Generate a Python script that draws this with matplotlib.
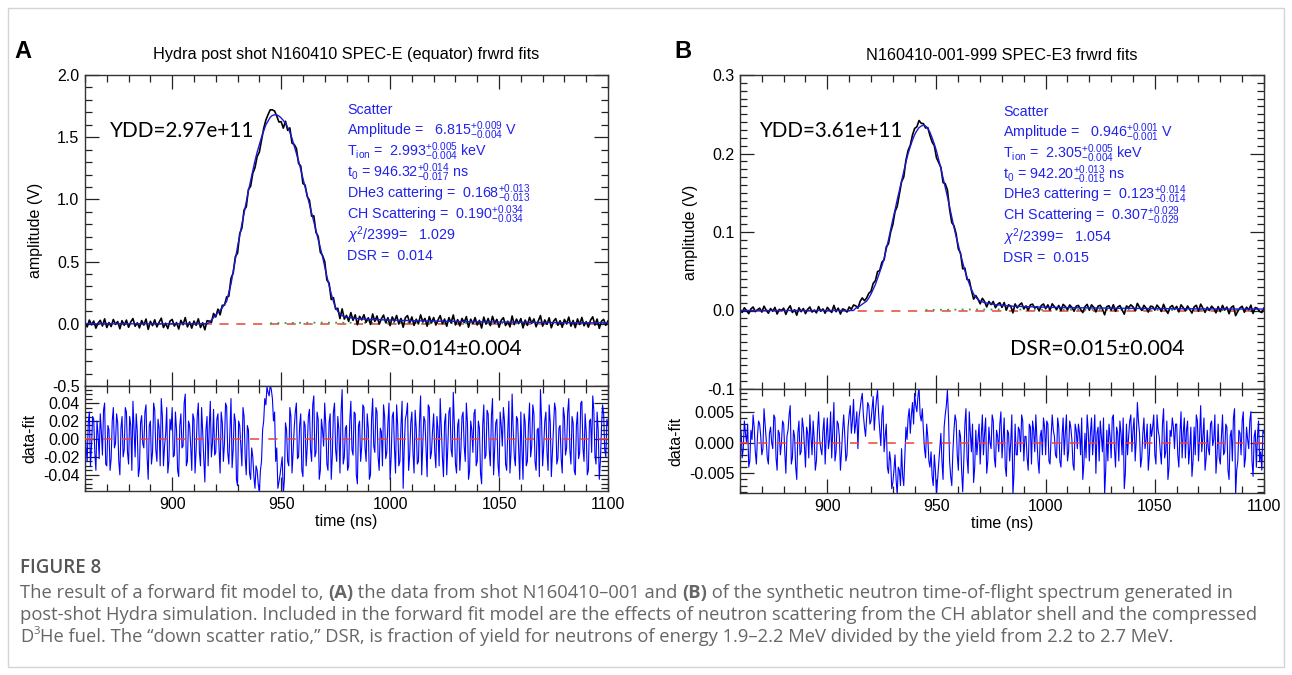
import numpy as np
import matplotlib
matplotlib.use("Agg")
import matplotlib.pyplot as plt
from matplotlib.ticker import MultipleLocator, FormatStrFormatter
from matplotlib.patches import Rectangle

plt.rcParams['font.family'] = ['Liberation Sans', 'DejaVu Sans']
plt.rcParams['axes.unicode_minus'] = False
plt.rcParams['mathtext.fontset'] = 'custom'
plt.rcParams['mathtext.rm'] = 'Liberation Sans'
plt.rcParams['mathtext.it'] = 'Liberation Sans:italic'
plt.rcParams['mathtext.bf'] = 'Liberation Sans:bold'
plt.rcParams['mathtext.sf'] = 'Liberation Sans'

# ---------------- data (860..1100 ns) ----------------
t_first, t_last, t_step = 860, 1100, 1.0

# panel A: forward-fit curve (V), 1 ns sampling
fit_a = ([0.0] * 57 +
         [0.01, 0.03, 0.05, 0.07, 0.09, 0.11, 0.13, 0.155, 0.18, 0.25,
          0.32, 0.42, 0.52, 0.62, 0.71, 0.80, 0.89, 0.98, 1.07, 1.15,
          1.23, 1.31, 1.38, 1.44, 1.50, 1.55, 1.60, 1.63, 1.66, 1.675,
          1.68, 1.68, 1.67, 1.655, 1.635, 1.61, 1.58, 1.54, 1.49, 1.43,
          1.37, 1.31, 1.24, 1.17, 1.10, 1.03, 0.96, 0.89, 0.82, 0.75,
          0.68, 0.61, 0.54, 0.46, 0.38, 0.31, 0.24, 0.18, 0.13, 0.10,
          0.08, 0.065, 0.058, 0.053, 0.050, 0.048, 0.046, 0.044, 0.042, 0.040,
          0.039, 0.038, 0.037, 0.036] +
         [0.035, 0.034, 0.034, 0.033, 0.033, 0.032, 0.032, 0.031, 0.031, 0.030,
          0.030, 0.029, 0.029, 0.028, 0.028, 0.027, 0.027, 0.026, 0.026, 0.025,
          0.025, 0.025, 0.024, 0.024, 0.024, 0.023, 0.023, 0.023, 0.022, 0.022,
          0.022, 0.021, 0.021, 0.021, 0.020, 0.020, 0.020, 0.019, 0.019, 0.019,
          0.019, 0.018, 0.018, 0.018, 0.018, 0.017, 0.017, 0.017, 0.017, 0.016,
          0.016, 0.016, 0.016, 0.015, 0.015, 0.015, 0.015, 0.015, 0.014, 0.014,
          0.014, 0.014, 0.014, 0.013, 0.013, 0.013, 0.013, 0.013, 0.013, 0.012,
          0.012, 0.012, 0.012, 0.012, 0.012, 0.011, 0.011, 0.011, 0.011, 0.011,
          0.011, 0.011, 0.010, 0.010, 0.010, 0.010, 0.010, 0.010, 0.010, 0.010,
          0.009, 0.009, 0.009, 0.009, 0.009, 0.009, 0.009, 0.009, 0.009, 0.009,
          0.008, 0.008, 0.008, 0.008, 0.008, 0.008, 0.008, 0.008, 0.008, 0.008])

# panel A: residual data-fit (mV) at whole ns (860..1100)
resid_a_mV = [
    12, -25, 30, -8, 22, -35, 5, 28, -18, 40, -30, 10, -22, 35, -5, 18, -40, 25, -12, 30,
    -28, 15, 42, -20, 8, -33, 26, -10, 38, -45, 20, -15, 32, -25, 12, 45, -30, 5, -38, 22,
    35, -18, 10, -42, 28, -8, 50, -25, 15, -35, 22, -12, 40, -30, 8, -48, 25, 12, -20, 33,
    -15, 28, -38, 18, -5, 36, -28, 45, -12, 20, -52, 15, -30, 25, -40, 10, -45, -20, -55, -35,
    -60, -25, 20, 38, 52, 60, 45, 30, -10, -48, -30, -62, 18, -25, 35, -38, 12, 40, -20, 28,
    -42, 15, -8, 33, -25, 48, -15, 22, -35, 10, 40, -28, 18, -45, 30, -12, 25, -38, 55, -20,
    15, -30, 42, -18, 28, -50, 20, -8, 35, -25, 12, -40, 45, -15, 30, -35, 8, 38, -22, 18,
    -45, 25, -10, 38, -30, 15, -55, 22, 40, -18, 30, -38, 12, -25, 48, -8, 20, -42, 35, -15,
    28, -32, 10, 45, -20, 18, -40, 30, -12, 52, -28, 15, -35, 25, -8, 40, -45, 20, -15, 33,
    -25, 12, -50, 38, -18, 28, -30, 45, -10, 22, -42, 15, 35, -28, 8, -38, 50, -20, 25, -12,
    30, -45, 18, -25, 40, -8, 28, -35, 12, 55, -30, 20, -15, 38, -42, 10, 32, -22, 15, -38,
    25, -10, 45, -28, 18, -40, 30, -15, 42, -25, 8, -35, 22, 48, -18, 30, -45, 12, 28, -20,
    15]
# panel A: residual data-fit (mV) at half ns (860.5..1099.5)
resid_a_half_mV = [
    -10, 18, -30, 25, -15, 20, -22, 8, 32, -28, 15, -35, 20, -10, 28, -25, 12, -20, 35, -15,
    25, -35, 10, 28, -42, 18, -5, 30, -20, 15, -28, 40, -12, 22, -30, 25, -8, 35, -25, 10,
    -20, 30, -35, 15, -10, 40, -30, 20, -8, 28, -38, 25, -15, 35, -22, 10, -30, 42, -5, -18,
    22, -10, 30, -25, 40, -15, 8, -32, 28, -45, 20, -8, 35, -20, 15, -38, -10, -42, -30, -50,
    -35, 10, 45, 58, 48, 55, 20, -25, -55, -40, -20, -45, 10, -30, 25, -15, 30, -22, 15, -35,
    20, -30, 25, -12, 38, -20, 30, -45, 22, -8, 15, -35, 28, -18, 40, -25, 10, 30, -28, 12,
    -35, 20, -12, 30, -40, 15, -25, 38, -10, 28, -45, 22, -8, 35, -20, 12, -30, 25, -15, 40,
    -20, 30, -38, 15, -25, 42, -10, 28, -35, 18, -15, 32, -28, 20, -40, 25, -12, 38, -22, 10,
    -15, 25, -30, 12, -42, 28, -8, 35, -20, 15, -38, 22, -12, 30, -25, 18, -35, 10, 28, -30,
    20, -38, 15, -22, 32, -12, 25, -40, 18, -28, 30, -8, 20, -35, 42, -15, 10, -30, 22, -45,
    -12, 28, -30, 15, -20, 38, -25, 10, -42, 22, -8, 30, -35, 18, -15, 40, -28, 12, -22, 35,
    -18, 30, -12, 25, -35, 15, -22, 40, -10, 28, -40, 20, -15, 32, -28, 10, -25, 38, -12, 22]

# panel B: forward-fit curve (V), 1 ns sampling
fit_b = ([0.0] * 53 +
         [0.003, 0.004, 0.006, 0.008, 0.010, 0.012, 0.016, 0.021, 0.027, 0.033,
          0.041, 0.049, 0.057, 0.066, 0.078, 0.090, 0.103, 0.116, 0.128, 0.141,
          0.153, 0.165, 0.177, 0.189, 0.200, 0.209, 0.217, 0.224, 0.229, 0.233,
          0.235, 0.236, 0.235, 0.232, 0.227, 0.220, 0.212, 0.203, 0.192, 0.181,
          0.169, 0.157, 0.145, 0.132, 0.119, 0.106, 0.094, 0.083, 0.072, 0.061,
          0.051, 0.042, 0.034, 0.027, 0.021, 0.017, 0.014, 0.012,
          0.011, 0.010, 0.0095, 0.009, 0.0085, 0.008, 0.0075, 0.007, 0.007, 0.0065] +
         [0.0062, 0.0060, 0.0058, 0.0056, 0.0055, 0.0054, 0.0053, 0.0052, 0.0051, 0.0050,
          0.0049, 0.0048, 0.0047, 0.0046, 0.0046, 0.0045, 0.0044, 0.0044, 0.0043, 0.0042,
          0.0042, 0.0041, 0.0040, 0.0040, 0.0039, 0.0039, 0.0038, 0.0038, 0.0037, 0.0037,
          0.0036, 0.0036, 0.0035, 0.0035, 0.0035, 0.0034, 0.0034, 0.0033, 0.0033, 0.0033,
          0.0032, 0.0032, 0.0032, 0.0031, 0.0031, 0.0031, 0.0030, 0.0030, 0.0030, 0.0029,
          0.0029, 0.0029, 0.0029, 0.0028, 0.0028, 0.0028, 0.0028, 0.0027, 0.0027, 0.0027,
          0.0027, 0.0026, 0.0026, 0.0026, 0.0026, 0.0025, 0.0025, 0.0025, 0.0025, 0.0025,
          0.0024, 0.0024, 0.0024, 0.0024, 0.0024, 0.0023, 0.0023, 0.0023, 0.0023, 0.0023,
          0.0022, 0.0022, 0.0022, 0.0022, 0.0022, 0.0022, 0.0022, 0.0021, 0.0021, 0.0021,
          0.0021, 0.0021, 0.0021, 0.0021, 0.0020, 0.0020, 0.0020, 0.0020, 0.0020, 0.0020,
          0.0020, 0.0020, 0.0019, 0.0019, 0.0019, 0.0019, 0.0019, 0.0019, 0.0019, 0.0019,
          0.0018, 0.0018, 0.0018, 0.0018, 0.0018, 0.0018, 0.0018, 0.0018, 0.0018, 0.0018])

# panel B: residual data-fit (1e-4 V) at whole ns (860..1100)
resid_b_1e4 = [
    10, -25, 35, 0, -40, 20, 45, -15, 10, 30, -20, 55, 5, -35, 25, -10, 40, -45, 15, 0,
    30, -50, 20, 60, -25, 10, -60, 35, -15, 25, -40, 15, 45, -20, 5, -30, 50, -10, 20, -35,
    40, 5, -25, 65, -15, 30, -45, 20, 10, -20, 45, 15, 70, 30, -10, 55, 80, 25, 40, 60,
    35, 75, 50, 85, 20, 45, -15, 30, -50, -30, -65, -20, -85, -45, -10, -70, 25, 40, 15, 65,
    80, 50, 90, 35, 20, -25, 10, -40, -55, -20, -85, -35, 15, -60, 45, 85, -30, -70, 20, 35,
    -45, 10, -80, 30, -25, 50, -15, -65, 20, 5, -35, 45, 15, -50, 25, -10, 35, -40, 10, 30,
    -25, 40, -55, 15, 0, -85, 30, -20, 20, 45, -30, 10, -45, 25, 35, -15, 5, -50, 20, 40,
    -20, 30, -35, 45, 10, -25, 25, -40, 40, 15, -30, 35, 5, -45, 20, 30, -20, -60, 15, 45,
    -30, 40, 10, -50, 25, 35, -15, -85, 20, 30, -25, 45, -40, 15, 35, -20, -75, 30, 10, 45,
    20, -30, 65, 15, -25, 40, 5, -45, 30, 25, -20, 45, 10, -35, 55, -15, -60, 20, 40, -10,
    30, -40, 50, 15, -25, 35, -10, -55, 25, 45, -30, 60, 10, -45, 20, -20, 35, 5, -50, 30,
    -35, 45, -15, 25, -60, 20, 40, -85, -30, 15, 35, -40, 25, -10, 50, -55, 20, 10, -30, -45,
    15]
# panel B: residual data-fit (1e-4 V) at half ns (860.5..1099.5)
resid_b_half_1e4 = [
    20, -10, 15, 30, -30, 5, 25, -35, 35, 10, -10, 30, -25, 15, 0, 45, -25, 20, -20, 35,
    -15, 10, 45, -35, 20, -40, 15, -20, 40, -5, 25, -25, 10, 35, -45, 20, 5, -20, 40, 10,
    -10, 50, 20, -30, 35, 10, -15, 45, -30, 25, 60, 35, 15, 50, 40, 70, 45, 10, 65, 30,
    55, 20, 70, 45, -5, 60, 10, -40, -15, -75, -45, -60, -40, -70, -55, -20, 5, 55, 45, 30,
    60, 75, 45, 55, -10, 30, -30, -15, -70, -45, -60, -10, -30, 25, 60, 40, -55, -15, 45, -20,
    20, -45, -30, 55, -50, 15, 30, -40, -20, 30, 10, -20, 40, -30, 0, 45, -25, 20, -15, 50,
    5, -40, 20, -30, 45, -50, -20, 25, -15, 35, 10, -25, 30, -35, 20, 45, -30, 10, -20, 25,
    35, -30, 10, 20, -20, 40, -30, 10, -20, 45, -15, 25, -35, 30, -10, 15, 40, -35, -25, 20,
    15, -20, 45, 15, -30, 10, 40, -45, -30, 10, 40, -10, 25, -30, 15, 40, -50, -20, 35, -15,
    40, 5, 35, -40, 15, -10, 30, -20, 10, 45, -35, 20, -15, 30, -25, 35, -40, 10, 25, 30,
    -20, 15, -25, 40, 20, -35, 25, -30, -20, 35, 10, -15, 40, -25, -10, 30, -5, 45, -20, -25,
    10, -20, 30, -45, 10, -30, 55, -45, 20, -20, 50, -25, 5, 35, -30, 10, -40, 35, -15, 20]

# scatter component (green dotted), sparse read points
scat_t = [945, 955, 965, 975, 985, 1000, 1030, 1060, 1100]
scat_a = [0.004, 0.007, 0.009, 0.009, 0.008, 0.007, 0.005, 0.004, 0.003]
scat_b = [0.0006, 0.0010, 0.0013, 0.0013, 0.0012, 0.0010, 0.0008, 0.0006, 0.0005]
baseline_level = 0.0

x_major = [900, 950, 1000, 1050, 1100]

info_a = ["Scatter",
          r"Amplitude =   $6.815^{+0.009}_{-0.004}$ V",
          r"T$_{\mathrm{ion}}$ =  $2.993^{+0.005}_{-0.004}$ keV",
          r"t$_0$ = $946.32^{+0.014}_{-0.017}$ ns",
          r"DHe3 cattering =  $0.168^{+0.013}_{-0.013}$",
          r"CH Scattering =  $0.190^{+0.034}_{-0.034}$",
          r"$\chi^2$/2399=   1.029",
          "DSR =  0.014"]
info_b = ["Scatter",
          r"Amplitude =   $0.946^{+0.001}_{-0.001}$ V",
          r"T$_{\mathrm{ion}}$ =  $2.305^{+0.005}_{-0.004}$ keV",
          r"t$_0$ = $942.20^{+0.013}_{-0.015}$ ns",
          r"DHe3 cattering =  $0.123^{+0.014}_{-0.014}$",
          r"CH Scattering =  $0.307^{+0.029}_{-0.029}$",
          r"$\chi^2$/2399=   1.054",
          "DSR =  0.015"]

t = np.arange(t_first, t_last + t_step / 2, t_step)
fit_a = np.array(fit_a)
fit_b = np.array(fit_b)


def interleave(whole, half, scale):
    out = np.empty(len(whole) + len(half))
    out[0::2] = np.array(whole) * scale
    out[1::2] = np.array(half) * scale
    return out


t_res = np.arange(t_first, t_last + 0.25, t_step / 2)
res_a = interleave(resid_a_mV, resid_a_half_mV, 1e-3)
res_b = interleave(resid_b_1e4, resid_b_half_1e4, 1e-4)
data_a = fit_a + np.array(resid_a_mV) * 1e-3
data_b = fit_b + np.array(resid_b_1e4) * 1e-4

# ---------------- layout ----------------
W, H = 1292, 675
fig = plt.figure(figsize=(W / 100, H / 100), dpi=100)
fig.patch.set_facecolor('white')


def fbox(l, tp, r, b):
    return [l / W, 1 - b / H, (r - l) / W, (b - tp) / H]


def fp(x, y):
    return x / W, 1 - y / H


axA = fig.add_axes(fbox(85, 75, 608, 386))
axAr = fig.add_axes(fbox(85, 386, 608, 491), sharex=axA)
axB = fig.add_axes(fbox(740, 75, 1264, 389))
axBr = fig.add_axes(fbox(740, 389, 1264, 493), sharex=axB)

RED = '#e5473a'
GREEN = '#2f9e3f'
BLUE = '#1a1ad6'
LBL = 11.5


def style(ax, ymaj, ymin, fmt):
    ax.set_xlim(t_first, t_last)
    ax.xaxis.set_major_locator(plt.FixedLocator(x_major))
    ax.xaxis.set_minor_locator(MultipleLocator(10))
    ax.yaxis.set_major_locator(MultipleLocator(ymaj))
    ax.yaxis.set_minor_locator(MultipleLocator(ymin))
    ax.yaxis.set_major_formatter(FormatStrFormatter(fmt))
    ax.tick_params(which='both', direction='in', top=True, right=True,
                   labelsize=LBL, colors='#222222', labelcolor='black', pad=4)
    ax.tick_params(which='major', length=10, width=0.9)
    ax.tick_params(which='minor', length=5, width=0.9)
    for s in ax.spines.values():
        s.set_linewidth(1.0)
        s.set_color('#333333')


for ax_top, ax_res, data, fit, resid, scat, ylim, yres, ymaj, ymin, fmt, rmaj, rmin, rfmt in [
        (axA, axAr, data_a, fit_a, res_a, scat_a, (-0.5, 2.0), (-0.058, 0.059),
         0.5, 0.1, '%.1f', 0.02, 0.005, '%.2f'),
        (axB, axBr, data_b, fit_b, res_b, scat_b, (-0.1, 0.3), (-0.0082, 0.0087),
         0.1, 0.01, '%.1f', 0.005, 0.001, '%.3f')]:
    ax_top.axhline(baseline_level, color=RED, ls=(0, (6, 5)), lw=1.1, zorder=1)
    ax_top.plot(scat_t, scat, color=GREEN, ls=(0, (1, 3)), lw=1.3, zorder=1.5)
    ax_top.plot(t, data, color='black', lw=1.2, zorder=2)
    ax_top.plot(t, fit, color=BLUE, lw=1.0, zorder=3)
    ax_top.set_ylim(*ylim)
    style(ax_top, ymaj, ymin, fmt)
    ax_top.tick_params(labelbottom=False)
    ax_top.set_ylabel('amplitude (V)', fontsize=LBL, labelpad=6)

    ax_res.plot(t_res, resid, color='#0000ff', lw=0.8, zorder=2)
    ax_res.axhline(baseline_level, color=RED, ls=(0, (6, 6)), lw=1.1, zorder=3)
    ax_res.set_ylim(*yres)
    style(ax_res, rmaj, rmin, rfmt)
    ax_res.set_ylabel('data-fit', fontsize=LBL, labelpad=4)
    ax_res.set_xlabel('time (ns)', fontsize=LBL, labelpad=2)

# titles and panel letters
fig.text(*fp(346, 55), 'Hydra post shot N160410 SPEC-E (equator) frwrd fits',
         ha='center', va='center', fontsize=11.7)
fig.text(*fp(1002, 55), 'N160410-001-999 SPEC-E3 frwrd fits',
         ha='center', va='center', fontsize=11.7)
fig.text(*fp(14, 52), 'A', ha='left', va='center', fontsize=17, fontweight='bold')
fig.text(*fp(674, 52), 'B', ha='left', va='center', fontsize=17, fontweight='bold')

# fit info text (blue)
for lines, x0, y0 in [(info_a, 347, 110), (info_b, 1003, 111.5)]:
    for i, s in enumerate(lines):
        fig.text(*fp(x0, y0 + i * 20.9), s, ha='left', va='center',
                 fontsize=10.3, color='#2222ee')

fig.canvas.draw()
renderer = fig.canvas.get_renderer()


def fitted_text(x, y, s, width_px, family, color='black', **kw):
    tt = fig.text(*fp(x, y), s, fontsize=16, family=family, color=color,
                  ha='left', va='center', **kw)
    w = tt.get_window_extent(renderer).width
    tt.set_fontsize(16 * width_px / w)
    return tt


big = ['Lato', 'DejaVu Sans']
fitted_text(110, 131, 'YDD=2.97e+11', 145, big)
fitted_text(350, 349, 'DSR=0.014\u00b10.004', 172, big)
fitted_text(759, 131, 'YDD=3.61e+11', 144, big)
fitted_text(1010, 349, 'DSR=0.015\u00b10.004', 174, big)

# ---------------- caption ----------------
cap_family = ['Open Sans', 'DejaVu Sans']
cap_color = '#666666'


def text_width(s, size, weight='normal'):
    a = fig.text(0, 0, s + '|', fontsize=size, family=cap_family, fontweight=weight)
    b = fig.text(0, 0, '|', fontsize=size, family=cap_family, fontweight=weight)
    w = a.get_window_extent(renderer).width - b.get_window_extent(renderer).width
    a.remove()
    b.remove()
    return w


line2 = ('post-shot Hydra simulation. Included in the forward fit model are the effects of '
         'neutron scattering from the CH ablator shell and the compressed')
cap_size = 11 * (1241 / text_width(line2, 11))


def draw_runs(x, y, runs, size):
    for s, weight, sup in runs:
        sz = size * 0.62 if sup else size
        yy = y - 5 if sup else y
        fig.text(*fp(x, yy), s, fontsize=sz, family=cap_family, fontweight=weight,
                 color=cap_color, ha='left', va='center')
        x += text_width(s, sz, weight)


fig.text(*fp(20, 568), 'FIGURE 8', fontsize=cap_size * 1.02, family=cap_family,
         color='#555555', ha='left', va='center', fontweight='semibold')
draw_runs(20, 593, [('The result of a forward fit model to, ', 'normal', False),
                    ('(A)', 'bold', False),
                    (' the data from shot N160410\u2013001 and ', 'normal', False),
                    ('(B)', 'bold', False),
                    (' of the synthetic neutron time-of-flight spectrum generated in',
                     'normal', False)], cap_size)
draw_runs(20, 615, [(line2, 'normal', False)], cap_size)
draw_runs(20, 637, [('D', 'normal', False), ('3', 'normal', True),
                    ('He fuel. The \u201cdown scatter ratio,\u201d DSR, is fraction of yield for '
                     'neutrons of energy 1.9\u20132.2 MeV divided by the yield from 2.2 to 2.7 MeV.',
                     'normal', False)], cap_size)

# outer frame
fig.add_artist(Rectangle(fp(8, 667), (1284 - 8) / W, (667 - 8) / H,
                         transform=fig.transFigure, fill=False,
                         edgecolor='#d4d4d4', lw=1.0))

fig.savefig('out.png', dpi=100, facecolor='white')
